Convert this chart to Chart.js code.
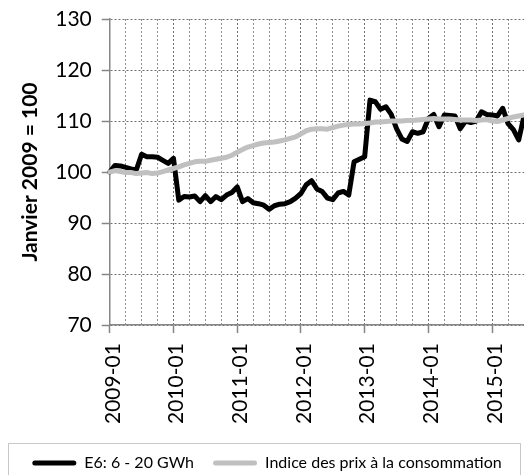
<!DOCTYPE html>
<html>
<head>
<meta charset="utf-8">
<script src="https://cdn.jsdelivr.net/npm/chart.js@4"></script>
<style>
  html, body { margin: 0; padding: 0; background: #fff; overflow: hidden; }
  #wrap { width: 524px; height: 475px; overflow: hidden; }
</style>
</head>
<body>
<div id="wrap"><canvas id="chart" width="524" height="500"></canvas></div>
<script>
"use strict"

// monthly series, 2009-01 .. 2015-07
const startYear = 2009
const nMonths = 79
const months = []
for (let i = 0; i < nMonths; i++) {
  const y = startYear + Math.floor(i / 12), m = (i % 12) + 1
  months.push(y + "-" + String(m).padStart(2, "0"))
}

const seriesNames = ["E6: 6 - 20 GWh", "Indice des prix à la consommation"]

const e6 = [
  100.0, 101.3, 101.2, 100.9, 100.6, 100.4, 103.5, 103.0, 103.0, 102.9, 102.3, 101.7,
  102.7, 94.5, 95.2, 95.1, 95.3, 94.2, 95.4, 94.2, 95.2, 94.6, 95.5, 96.0,
  97.1, 94.2, 94.8, 94.0, 93.8, 93.5, 92.7, 93.4, 93.7, 93.8, 94.2, 94.9,
  95.8, 97.5, 98.3, 96.7, 96.2, 94.9, 94.6, 95.9, 96.2, 95.5, 102.0, 102.5,
  103.0, 114.1, 113.8, 112.3, 112.8, 111.3, 108.5, 106.5, 106.0, 107.9, 107.6, 107.9,
  110.5, 111.3, 108.9, 111.2, 111.1, 111.0, 108.5, 110.0, 109.7, 110.0, 111.8, 111.3,
  111.2, 111.0, 112.5, 109.5, 108.3, 106.3, 111.0
]

const ipc = [
  100.0, 100.3, 100.1, 99.9, 99.9, 99.7, 99.8, 99.9, 99.7, 99.8, 100.1, 100.4,
  100.7, 101.0, 101.4, 101.7, 102.0, 102.1, 102.1, 102.3, 102.5, 102.7, 102.9, 103.3,
  103.9, 104.4, 104.9, 105.2, 105.5, 105.7, 105.8, 105.9, 106.1, 106.3, 106.6, 106.9,
  107.5, 108.1, 108.4, 108.5, 108.5, 108.4, 108.7, 109.0, 109.2, 109.3, 109.4, 109.4,
  109.5, 109.6, 109.8, 109.8, 109.9, 110.0, 110.0, 110.0, 110.1, 110.1, 110.2, 110.3,
  110.4, 110.5, 110.4, 110.4, 110.4, 110.3, 110.2, 110.2, 110.2, 110.1, 110.2, 110.3,
  110.0, 109.9, 110.2, 110.5, 110.8, 111.0, 111.2
]

const yMin = 70, yMax = 130, yStep = 10
const yTitle = "Janvier 2009 = 100"

const FONT = "Lato, 'Open Sans', sans-serif"

// border around the legend, like the office chart
const legendBox = {
  id: "legendBox",
  afterDraw(chart) {
    const lg = chart.legend
    if (!lg || !lg.legendHitBoxes.length) return
    const hb = lg.legendHitBoxes[0]
    const cy = hb.top + hb.height / 2
    const {ctx} = chart
    ctx.save()
    ctx.strokeStyle = "#c8c8c8"
    ctx.lineWidth = 1
    ctx.strokeRect(8.5, Math.round(cy - 20.5) + 0.5, 512, 60)
    ctx.restore()
  }
}

new Chart(document.getElementById("chart"), {
  type: "line",
  data: {
    labels: months,
    datasets: [
      { label: seriesNames[0], data: e6, borderColor: "#000000", backgroundColor: "#000000",
        borderWidth: 5, order: 2 },
      { label: seriesNames[1], data: ipc, borderColor: "#c0c0c0", backgroundColor: "#c0c0c0",
        borderWidth: 5, order: 1 }
    ]
  },
  options: {
    responsive: false,
    animation: false,
    layout: { padding: { left: 10, right: 0, top: 19, bottom: 19 } },
    elements: {
      point: { radius: 0 },
      line: { tension: 0, borderJoinStyle: "round", borderCapStyle: "round" }
    },
    scales: {
      x: {
        type: "category",
        offset: false,
        // the plot runs right up to the edge, as in the cropped original
        afterFit: s => { s.paddingRight = 0; s.height += 2 },
        grid: {
          color: c => c.index % 12 == 0 ? "#6e6e6e" : (c.index % 3 == 0 ? "#8e8e8e" : "rgba(0,0,0,0)"),
          tickColor: c => c.index % 12 == 0 ? "#868686" : "rgba(0,0,0,0)",
          tickLength: 8,
          tickWidth: 1.5,
          lineWidth: 1
        },
        border: { color: "#868686", width: 1.5, dash: [2, 2] },
        ticks: {
          autoSkip: false,
          maxRotation: 90,
          minRotation: 90,
          padding: 10,
          labelOffset: 3,
          color: "#000",
          font: { family: FONT, size: 21 },
          callback: (v, i) => i % 12 == 0 ? months[i] : ""
        }
      },
      y: {
        min: yMin,
        max: yMax,
        afterFit: s => { s.paddingTop = 0 },
        grid: {
          color: "#6e6e6e",
          tickColor: "#868686",
          tickLength: 8,
          tickWidth: 1.5,
          lineWidth: 1
        },
        border: { color: "#868686", width: 1.5, dash: [2, 2] },
        ticks: {
          stepSize: yStep,
          padding: 10,
          color: "#000",
          font: { family: FONT, size: 21 }
        },
        title: {
          display: true,
          text: yTitle,
          color: "#000",
          padding: { top: 8, bottom: 2 },
          font: { family: FONT, size: 21, weight: "bold" }
        }
      }
    },
    plugins: {
      legend: {
        position: "bottom",
        labels: {
          boxWidth: 44,
          boxHeight: 5,
          useBorderRadius: true,
          borderRadius: 2.5,
          padding: 19,
          color: "#000",
          font: { family: FONT, size: 16 },
          sort: (a, b) => a.datasetIndex - b.datasetIndex,
          generateLabels: chart => Chart.defaults.plugins.legend.labels.generateLabels(chart)
            .map(l => Object.assign(l, { fillStyle: l.strokeStyle, lineWidth: 0 }))
        }
      },
      tooltip: { enabled: false }
    }
  },
  plugins: [legendBox]
})
</script>
</body>
</html>
